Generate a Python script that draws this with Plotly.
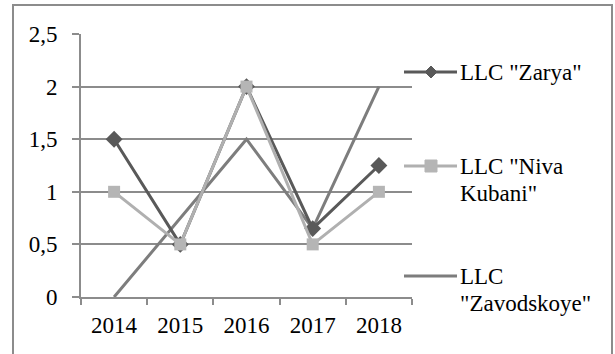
import plotly.graph_objects as go

years = ["2014", "2015", "2016", "2017", "2018"]
zarya = [1.5, 0.5, 2.0, 0.65, 1.25]
niva = [1.0, 0.5, 2.0, 0.5, 1.0]
zavod = [0.0, 0.75, 1.5, 0.65, 2.0]
names = [['LLC "Zarya"'], ['LLC "Niva', 'Kubani"'], ['LLC', '"Zavodskoye"']]
colors = ["#595959", "#b0b0b0", "#7d7d7d"]

FONT = "Times New Roman"
FS = 23
W, H = 615, 354
L, R, T, B = 81, 412, 34, 297

fig = go.Figure()
fig.add_trace(go.Scatter(x=years, y=zavod, name=" ".join(names[2]), mode="lines",
                         line=dict(color=colors[2], width=3), showlegend=False))
fig.add_trace(go.Scatter(x=years, y=zarya, name=" ".join(names[0]), mode="lines+markers",
                         line=dict(color=colors[0], width=3),
                         marker=dict(symbol="diamond", size=13, color=colors[0]),
                         showlegend=False))
fig.add_trace(go.Scatter(x=years, y=niva, name=" ".join(names[1]), mode="lines+markers",
                         line=dict(color=colors[1], width=3),
                         marker=dict(symbol="square", size=12, color="#b5b5b5"),
                         showlegend=False))

pw, ph = R - L, B - T
def px(x): return (x - L) / pw
def py(y): return (B - y) / ph

shapes = [dict(type="rect", xref="paper", yref="paper",
               x0=px(13), x1=px(612), y0=py(362), y1=py(5),
               line=dict(color="#8c8c8c", width=2), layer="below")]
annotations = []
leg_y = [72, 166, 276]
glyphs = ["diamond", "square", None]
gx0, gx1, gxc = 404, 457, 431
LINE_H = 27
for c, yy, g, nm in zip(colors, leg_y, glyphs, names):
    shapes.append(dict(type="line", xref="paper", yref="paper",
                       x0=px(gx0), x1=px(gx1), y0=py(yy), y1=py(yy),
                       line=dict(color=c, width=3)))
    if g == "diamond":
        d = 6
        path = (f"M {px(gxc-d)} {py(yy)} L {px(gxc)} {py(yy-d)} "
                f"L {px(gxc+d)} {py(yy)} L {px(gxc)} {py(yy+d)} Z")
        shapes.append(dict(type="path", xref="paper", yref="paper", path=path,
                           fillcolor=c, line=dict(color=c, width=1)))
    elif g == "square":
        d = 6
        shapes.append(dict(type="rect", xref="paper", yref="paper",
                           x0=px(gxc-d), x1=px(gxc+d), y0=py(yy+d), y1=py(yy-d),
                           fillcolor="#b5b5b5", line=dict(color="#b5b5b5", width=1)))
    for k, line in enumerate(nm):
        annotations.append(dict(text=line, xref="paper", yref="paper",
                                x=px(458), y=py(yy + k * LINE_H), xanchor="left",
                                yanchor="middle", align="left", showarrow=False,
                                font=dict(family=FONT, size=FS, color="black")))

fig.update_layout(
    width=W, height=H,
    margin=dict(l=L, r=W - R, t=T, b=H - B),
    paper_bgcolor="white", plot_bgcolor="white",
    separators=", ",
    showlegend=False,
    font=dict(family=FONT, size=FS, color="black"),
    xaxis=dict(type="category", range=[-0.5, 4.5], showgrid=False,
               showline=True, linecolor="#8c8c8c", linewidth=2,
               ticks="outside", ticklen=6, tickcolor="#8c8c8c", tickwidth=2,
               tickson="boundaries", ticklabelstandoff=6,
               tickfont=dict(family=FONT, size=FS, color="black")),
    yaxis=dict(range=[0, 2.5], dtick=0.5, showgrid=True, gridcolor="#8c8c8c",
               gridwidth=2, showline=True, linecolor="#8c8c8c", linewidth=2,
               ticks="outside", ticklen=7, tickcolor="#8c8c8c", tickwidth=2,
               zeroline=False, ticklabelstandoff=10,
               tickfont=dict(family=FONT, size=FS, color="black")),
    shapes=shapes,
    annotations=annotations,
)
fig.write_html("out.html")
